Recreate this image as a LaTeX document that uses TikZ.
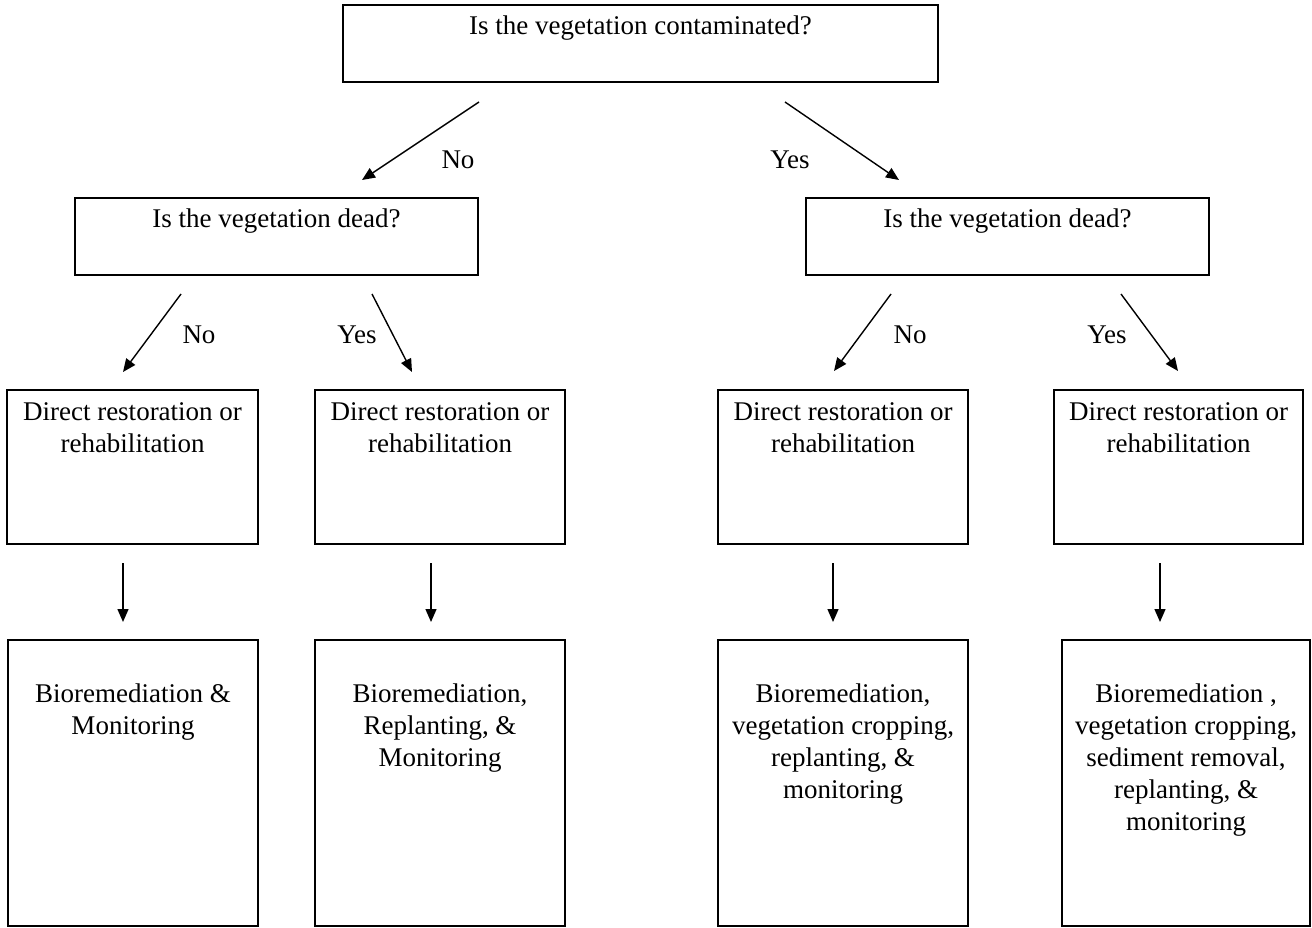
\documentclass[tikz,border=0pt]{standalone}
\usepackage{fontspec}
\setmainfont{Liberation Serif}
\usetikzlibrary{arrows.meta}

% box body: width, height, top-aligned centred lines
\newcommand{\boxbody}[3]{\parbox[c][#2][t]{#1}{\vspace*{7pt}\centering\rule{0pt}{23pt}#3\par}}

\tikzset{
  flowbox/.style={draw, line width=1.8pt, inner sep=0pt, font=\fontsize{27}{32}\selectfont},
  flowarrow/.style={line width=1.4pt, -{Triangle[length=13pt,width=11pt]}},
  answer/.style={anchor=base, inner sep=0pt, font=\fontsize{27}{32}\selectfont},
}

\begin{document}
\begin{tikzpicture}[x=1pt,y=-1pt]
\useasboundingbox (0,0) rectangle (1312,928);

% question boxes
\node[flowbox] (q0) at (640.5,43.5) {\boxbody{595pt}{77pt}{Is the vegetation contaminated?}};
\node[flowbox] (qL) at (276.5,236.5) {\boxbody{403pt}{77pt}{Is the vegetation dead?}};
\node[flowbox] (qR) at (1007.5,236.5) {\boxbody{403pt}{77pt}{Is the vegetation dead?}};

% restoration boxes
\node[flowbox] (r1) at (132.5,467) {\boxbody{251pt}{154pt}{Direct restoration or\\rehabilitation}};
\node[flowbox] (r2) at (440,467) {\boxbody{250pt}{154pt}{Direct restoration or\\rehabilitation}};
\node[flowbox] (r3) at (843,467) {\boxbody{250pt}{154pt}{Direct restoration or\\rehabilitation}};
\node[flowbox] (r4) at (1178.5,467) {\boxbody{249pt}{154pt}{Direct restoration or\\rehabilitation}};

% treatment boxes
\node[flowbox] (t1) at (133,783) {\boxbody{250pt}{286pt}{\\Bioremediation \&\\Monitoring}};
\node[flowbox] (t2) at (440,783) {\boxbody{250pt}{286pt}{\\Bioremediation,\\Replanting, \&\\Monitoring}};
\node[flowbox] (t3) at (843,783) {\boxbody{250pt}{286pt}{\\Bioremediation,\\vegetation cropping,\\replanting, \&\\monitoring}};
\node[flowbox] (t4) at (1186,783) {\boxbody{248pt}{286pt}{\\Bioremediation ,\\vegetation cropping,\\sediment removal,\\replanting, \&\\monitoring}};

% arrow end points
\coordinate (a0s) at (479,102);  \coordinate (a0e) at (362,180);
\coordinate (a1s) at (785,102);  \coordinate (a1e) at (899,180);
\coordinate (a2s) at (181,294);  \coordinate (a2e) at (123,372);
\coordinate (a3s) at (372,294);  \coordinate (a3e) at (412,372);
\coordinate (a4s) at (891,294);  \coordinate (a4e) at (834,371);
\coordinate (a5s) at (1121,294); \coordinate (a5e) at (1178,371);
\coordinate (v1s) at (123,563);  \coordinate (v1e) at (123,622);
\coordinate (v2s) at (431,563);  \coordinate (v2e) at (431,622);
\coordinate (v3s) at (833,563);  \coordinate (v3e) at (833,622);
\coordinate (v4s) at (1160,563); \coordinate (v4e) at (1160,622);

\draw[flowarrow] (a0s) -- (a0e);
\draw[flowarrow] (a1s) -- (a1e);
\draw[flowarrow] (a2s) -- (a2e);
\draw[flowarrow] (a3s) -- (a3e);
\draw[flowarrow] (a4s) -- (a4e);
\draw[flowarrow] (a5s) -- (a5e);
\draw[flowarrow] (v1s) -- (v1e);
\draw[flowarrow] (v2s) -- (v2e);
\draw[flowarrow] (v3s) -- (v3e);
\draw[flowarrow] (v4s) -- (v4e);

% answers
\node[answer] (n0) at (458,169) {No};
\node[answer] (y0) at (790,169) {Yes};
\node[answer] (n1) at (199,343) {No};
\node[answer] (y1) at (357,343) {Yes};
\node[answer] (n2) at (910,343) {No};
\node[answer] (y2) at (1107,343) {Yes};
\end{tikzpicture}
\end{document}
